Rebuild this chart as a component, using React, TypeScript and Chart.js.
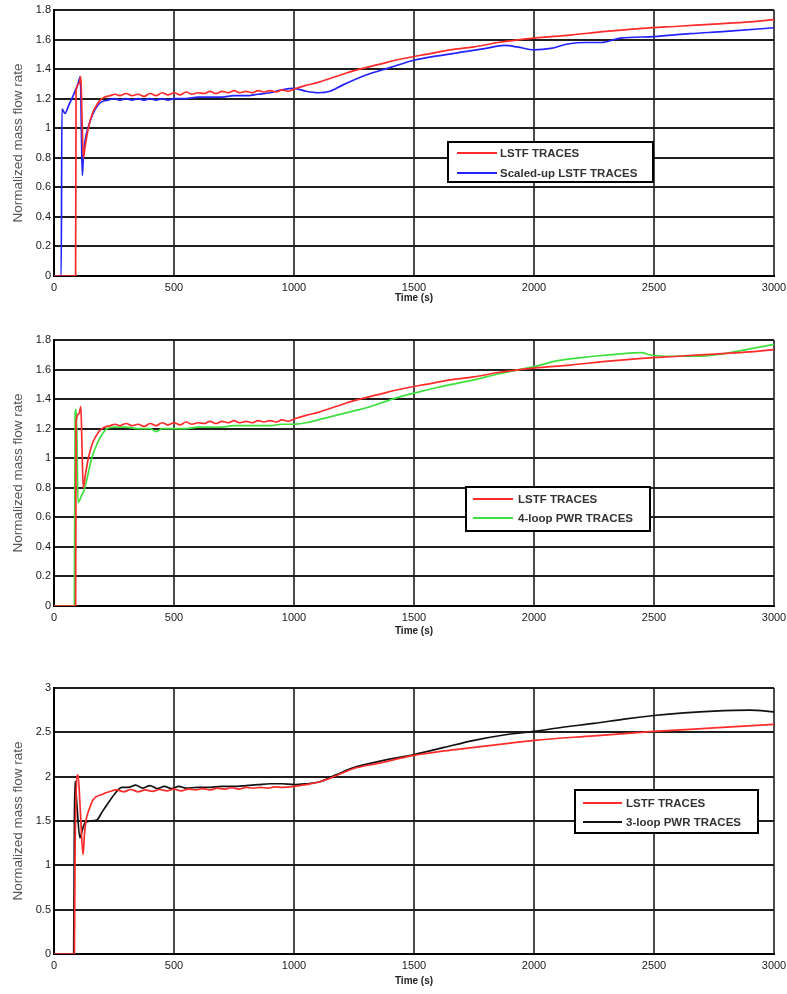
import React, { useEffect, useRef } from "react";
import { Chart, registerables } from "chart.js";
Chart.register(...registerables);

// ---------- data ----------
const xTickValues = [0, 500, 1000, 1500, 2000, 2500, 3000];
const yTicksSmall = [0, 0.2, 0.4, 0.6, 0.8, 1, 1.2, 1.4, 1.6, 1.8];
const yTicksLarge = [0, 0.5, 1, 1.5, 2, 2.5, 3];

// LSTF traces (panels 1 and 2)
const lstfTime = [0, 90, 92, 104, 112, 117, 122, 130, 143, 160, 175, 192, 210, 233, 255, 275, 300, 325, 350, 375, 400, 425, 450, 475, 500, 525, 550, 575, 600, 625, 650, 675, 700, 725, 750, 775, 800, 825, 850, 875, 900, 925, 950, 975, 1000, 1050, 1100, 1175, 1250, 1350, 1450, 1550, 1650, 1750, 1850, 2000, 2150, 2300, 2450, 2600, 2750, 2900, 3000];
const lstfFlow = [0, 0, 1.25, 1.3, 1.35, 1.05, 0.8, 0.88, 1.0, 1.1, 1.15, 1.19, 1.21, 1.22, 1.23, 1.22, 1.235, 1.22, 1.23, 1.215, 1.235, 1.22, 1.24, 1.225, 1.24, 1.225, 1.245, 1.23, 1.24, 1.235, 1.25, 1.235, 1.25, 1.24, 1.255, 1.24, 1.25, 1.24, 1.255, 1.245, 1.255, 1.245, 1.26, 1.25, 1.265, 1.29, 1.31, 1.35, 1.39, 1.43, 1.47, 1.5, 1.53, 1.55, 1.58, 1.61, 1.63, 1.655, 1.675, 1.69, 1.705, 1.72, 1.735];

// Scaled-up LSTF traces (panel 1)
const scaledTime = [0, 30, 33, 38, 46, 60, 80, 100, 110, 114, 118, 122, 130, 145, 160, 180, 200, 225, 250, 275, 300, 325, 350, 375, 400, 425, 450, 475, 500, 550, 600, 650, 700, 750, 800, 850, 900, 950, 1000, 1050, 1100, 1150, 1200, 1300, 1400, 1500, 1600, 1720, 1800, 1875, 1930, 2000, 2070, 2140, 2220, 2280, 2360, 2500, 2650, 2800, 3000];
const scaledFlow = [0, 0, 1.13, 1.12, 1.1, 1.15, 1.22, 1.3, 1.35, 1.0, 0.68, 0.8, 0.92, 1.02, 1.09, 1.15, 1.18, 1.19, 1.2, 1.19, 1.2, 1.19, 1.2, 1.19, 1.2, 1.19, 1.2, 1.19, 1.2, 1.2, 1.21, 1.21, 1.21, 1.22, 1.22, 1.23, 1.24, 1.26, 1.27, 1.25, 1.24, 1.25, 1.29, 1.36, 1.41, 1.46, 1.49, 1.52, 1.54, 1.56, 1.55, 1.53, 1.54, 1.57, 1.58, 1.58, 1.61, 1.62, 1.64, 1.655, 1.68];

// 4-loop PWR traces (panel 2)
const pwr4Time = [0, 85, 88, 92, 96, 100, 108, 115, 125, 140, 157, 180, 200, 220, 250, 300, 350, 400, 427, 450, 500, 550, 600, 650, 700, 750, 800, 850, 900, 950, 1000, 1050, 1100, 1175, 1250, 1320, 1392, 1450, 1500, 1600, 1750, 1850, 2000, 2100, 2250, 2350, 2450, 2480, 2550, 2683, 2800, 2900, 3000];
const pwr4Flow = [0, 0, 1.3, 1.33, 1.1, 0.7, 0.72, 0.75, 0.78, 0.88, 1.0, 1.1, 1.16, 1.2, 1.21, 1.21, 1.2, 1.2, 1.18, 1.2, 1.2, 1.2, 1.21, 1.21, 1.21, 1.22, 1.22, 1.22, 1.22, 1.23, 1.23, 1.24, 1.26, 1.29, 1.32, 1.35, 1.39, 1.42, 1.44, 1.48, 1.53, 1.57, 1.62, 1.66, 1.69, 1.705, 1.715, 1.7, 1.69, 1.69, 1.71, 1.74, 1.77];

// LSTF traces (panel 3)
const lstf3Time = [0, 85, 88, 100, 110, 121, 127, 133, 145, 163, 200, 230, 262, 290, 320, 350, 380, 410, 440, 470, 500, 530, 560, 590, 620, 650, 680, 710, 740, 770, 800, 830, 860, 890, 920, 950, 1000, 1050, 1104, 1175, 1246, 1350, 1500, 1625, 1750, 1875, 2000, 2250, 2500, 2750, 3000];
const lstf3Flow = [0, 0, 1.2, 2.02, 1.6, 1.12, 1.35, 1.5, 1.62, 1.74, 1.8, 1.83, 1.85, 1.83, 1.855, 1.83, 1.85, 1.835, 1.855, 1.84, 1.86, 1.84, 1.86, 1.85, 1.865, 1.85, 1.87, 1.86, 1.875, 1.86, 1.88, 1.87, 1.88, 1.87, 1.885, 1.88, 1.89, 1.91, 1.94, 2.01, 2.09, 2.15, 2.24, 2.29, 2.33, 2.37, 2.41, 2.46, 2.51, 2.55, 2.59];

// 3-loop PWR traces (panel 3)
const pwr3Time = [0, 82, 85, 88, 95, 108, 118, 129, 150, 178, 200, 230, 260, 282, 310, 340, 370, 400, 430, 460, 490, 520, 550, 600, 650, 700, 750, 800, 850, 900, 950, 1000, 1050, 1104, 1175, 1246, 1350, 1500, 1625, 1750, 1875, 2000, 2125, 2250, 2375, 2500, 2625, 2750, 2900, 3000];
const pwr3Flow = [0, 0, 1.5, 1.95, 1.7, 1.31, 1.4, 1.48, 1.5, 1.51, 1.6, 1.72, 1.83, 1.88, 1.88, 1.905, 1.87, 1.9, 1.865, 1.89, 1.865, 1.89, 1.87, 1.88, 1.88, 1.89, 1.89, 1.9, 1.91, 1.92, 1.92, 1.91, 1.92, 1.94, 2.02, 2.1, 2.17, 2.25, 2.33, 2.41, 2.47, 2.51, 2.56, 2.6, 2.65, 2.69, 2.72, 2.74, 2.75, 2.73];

const xTitle = "Time (s)";
const yTitle = "Normalized mass flow rate";
const lstfLabel = "LSTF TRACES";
const scaledLabel = "Scaled-up LSTF TRACES";
const pwr4Label = "4-loop PWR TRACES";
const pwr3Label = "3-loop PWR TRACES";

// ---------- styles ----------
const RED = "#ff2b2b";
const BLUE = "#2323ff";
const GREEN = "#3ee03e";
const BLACK = "#111111";
const FONT = '"Liberation Sans", Arial, sans-serif';

const toPoints = (xs: number[], ys: number[]) => xs.map((x, i) => ({ x, y: ys[i] }));

const boxLegend = {
  id: "boxLegend",
  afterDraw(chart: any, _args: any, opts: any) {
    if (!opts || !opts.w) return;
    const { ctx } = chart;
    ctx.save();
    ctx.fillStyle = "#ffffff";
    ctx.fillRect(opts.x, opts.y, opts.w, opts.h);
    ctx.strokeStyle = "#000000";
    ctx.lineWidth = 2;
    ctx.strokeRect(opts.x, opts.y, opts.w, opts.h);
    ctx.font = `bold ${opts.fontSize}px ${FONT}`;
    ctx.textBaseline = "middle";
    ctx.textAlign = "left";
    chart.data.datasets.forEach((ds: any, i: number) => {
      const y = opts.y + opts.rowTop + i * opts.rowGap;
      ctx.strokeStyle = ds.borderColor;
      ctx.lineWidth = 2;
      ctx.beginPath();
      ctx.moveTo(opts.x + opts.lineX, y);
      ctx.lineTo(opts.x + opts.lineX + opts.lineLen, y);
      ctx.stroke();
      ctx.fillStyle = "#333333";
      ctx.fillText(ds.label, opts.x + opts.textX, y + 0.5);
    });
    ctx.restore();
  },
};

type PanelProps = {
  top: number;
  height: number;
  yMax: number;
  yTicks: number[];
  datasets: { label: string; color: string; xs: number[]; ys: number[] }[];
  legend: any;
  xTitleOffset: number;
};

const PLOT_TOP = 10;
const PLOT_H = 266;
const LEFT_W = 54;
const RIGHT_PAD = 13;

function Panel(p: PanelProps) {
  const ref = useRef<HTMLCanvasElement>(null);
  useEffect(() => {
    if (!ref.current) return;
    const axisH = p.height - PLOT_TOP - PLOT_H;
    const chart = new Chart(ref.current, {
      type: "line",
      data: {
        datasets: p.datasets.map((d) => ({
          label: d.label,
          data: toPoints(d.xs, d.ys),
          borderColor: d.color,
          backgroundColor: d.color,
          borderWidth: 1.7,
          pointRadius: 0,
          cubicInterpolationMode: "monotone",
          fill: false,
        })),
      },
      options: {
        animation: false,
        responsive: false,
        events: [],
        layout: { padding: { top: PLOT_TOP, right: RIGHT_PAD, left: 0, bottom: 0 } },
        plugins: {
          legend: { display: false },
          tooltip: { enabled: false },
          boxLegend: p.legend,
        } as any,
        scales: {
          x: {
            type: "linear",
            min: 0,
            max: 3000,
            afterBuildTicks: (s: any) => {
              s.ticks = xTickValues.map((v) => ({ value: v }));
            },
            afterFit: (s: any) => {
              s.height = axisH;
              s.paddingLeft = 0;
              s.paddingRight = 0;
            },
            ticks: {
              padding: 5,
              color: "#1a1a1a",
              font: { family: FONT, size: 11 },
              maxRotation: 0,
              callback: (v: any) => String(v),
            },
            grid: { color: "#4a4a4a", lineWidth: 2, drawTicks: false },
            border: { display: true, color: "#000", width: 2 },
            title: {
              display: true,
              text: xTitle,
              color: "#222",
              font: { family: FONT, size: 10, weight: "bold" },
              padding: { top: 0, bottom: axisH - p.xTitleOffset - 6 },
            },
          },
          y: {
            type: "linear",
            min: 0,
            max: p.yMax,
            afterBuildTicks: (s: any) => {
              s.ticks = p.yTicks.map((v) => ({ value: v }));
            },
            afterFit: (s: any) => {
              s.width = LEFT_W;
              s.paddingTop = 0;
              s.paddingBottom = 0;
            },
            ticks: {
              padding: 3,
              color: "#1a1a1a",
              font: { family: FONT, size: 11 },
              callback: (v: any) => String(Math.round(Number(v) * 10) / 10),
            },
            grid: { color: "#1e1e1e", lineWidth: 2, drawTicks: false },
            border: { display: true, color: "#000", width: 2 },
            title: {
              display: true,
              text: yTitle,
              color: "#555",
              font: { family: FONT, size: 13.5 },
              padding: { top: 10, bottom: 0 },
            },
          },
        },
      },
      plugins: [boxLegend],
    });
    return () => chart.destroy();
  }, []);
  return (
    <canvas
      ref={ref}
      width={787}
      height={p.height}
      style={{ position: "absolute", left: 0, top: p.top, width: 787, height: p.height }}
    />
  );
}

export default function App() {
  return (
    <div style={{ position: "absolute", left: 0, top: 0, width: 787, height: 994, background: "#fff", overflow: "hidden" }}>
      <Panel
        top={0}
        height={320}
        yMax={1.8}
        yTicks={yTicksSmall}
        xTitleOffset={22}
        datasets={[
          { label: lstfLabel, color: RED, xs: lstfTime, ys: lstfFlow },
          { label: scaledLabel, color: BLUE, xs: scaledTime, ys: scaledFlow },
        ]}
        legend={{ x: 448, y: 142, w: 205, h: 40, lineX: 9, lineLen: 40, textX: 52, rowTop: 11, rowGap: 20, fontSize: 11.5 }}
      />
      <Panel
        top={330}
        height={320}
        yMax={1.8}
        yTicks={yTicksSmall}
        xTitleOffset={25}
        datasets={[
          { label: lstfLabel, color: RED, xs: lstfTime, ys: lstfFlow },
          { label: pwr4Label, color: GREEN, xs: pwr4Time, ys: pwr4Flow },
        ]}
        legend={{ x: 466, y: 157, w: 184, h: 44, lineX: 7, lineLen: 40, textX: 52, rowTop: 12, rowGap: 19, fontSize: 11.5 }}
      />
      <Panel
        top={678}
        height={316}
        yMax={3}
        yTicks={yTicksLarge}
        xTitleOffset={27}
        datasets={[
          { label: lstfLabel, color: RED, xs: lstf3Time, ys: lstf3Flow },
          { label: pwr3Label, color: BLACK, xs: pwr3Time, ys: pwr3Flow },
        ]}
        legend={{ x: 575, y: 112, w: 183, h: 43, lineX: 8, lineLen: 39, textX: 51, rowTop: 13, rowGap: 19, fontSize: 11.5 }}
      />
    </div>
  );
}
